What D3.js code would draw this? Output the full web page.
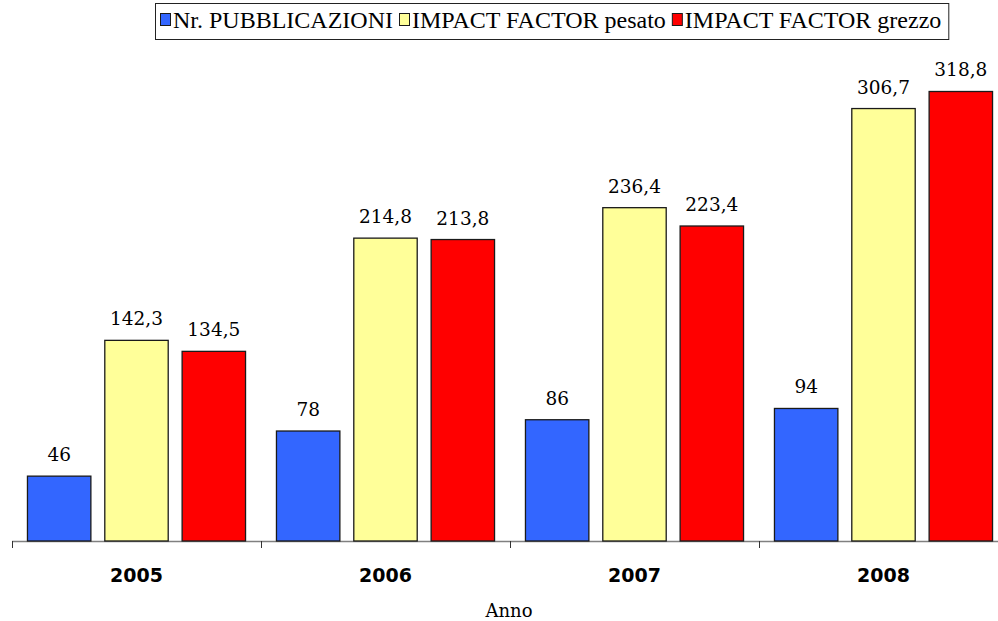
<!DOCTYPE html>
<html>
<head>
<meta charset="utf-8">
<script src="https://cdn.jsdelivr.net/npm/d3@7"></script>
<style>
  body { margin: 0; background: #fff; }
  svg { display: block; }
  .serif { font-family: 'Liberation Serif', 'Times New Roman', serif; }
  .serif2 { font-family: 'DejaVu Serif', serif; }
  .sansb { font-family: 'DejaVu Sans', Verdana, sans-serif; font-weight: bold; }
</style>
</head>
<body>
<div id="chart-area"></div>
<script>

// data
let years = ["2005", "2006", "2007", "2008"];
let seriesNames = ["Nr. PUBBLICAZIONI", "IMPACT FACTOR pesato", "IMPACT FACTOR grezzo"];
let pubblicazioni = [46, 78, 86, 94];
let ifPesato = [142.3, 214.8, 236.4, 306.7];
let ifGrezzo = [134.5, 213.8, 223.4, 318.8];
let colors = ["#3366ff", "#ffff99", "#ff0000"];

let width = 998,
	height = 621;

let svg = d3.select("#chart-area").append("svg")
	.attr("width", width)
	.attr("height", height);

// table for the bars
let data = years.map((y, i) => ({
	year: y,
	values: [pubblicazioni[i], ifPesato[i], ifGrezzo[i]]
}));

let x = d3.scaleBand()
	.domain(years)
	.range([12, 1008])
	.padding(0);

let xInner = d3.scaleBand()
	.domain(d3.range(seriesNames.length))
	.range([0, x.bandwidth()])
	.paddingInner(0.18)
	.paddingOuter(0.2);

let y = d3.scaleLinear()
	.domain([0, 350])
	.range([541, 541 - 350 * 1.41]);

// x axis
let xAxis = svg.append("g")
	.attr("transform", "translate(0," + y(0) + ")");

xAxis.append("line")
	.attr("x1", 12).attr("x2", 998)
	.attr("y1", 0.5).attr("y2", 0.5)
	.attr("stroke", "#808080")
	.attr("stroke-width", 1.5);

xAxis.selectAll(".tick")
	.data(years)
	.enter()
	.append("line")
	.attr("x1", d => Math.round(x(d)) + 0.5)
	.attr("x2", d => Math.round(x(d)) + 0.5)
	.attr("y1", 0)
	.attr("y2", 7)
	.attr("stroke", "#333")
	.attr("stroke-width", 1);

xAxis.selectAll(".year-label")
	.data(years)
	.enter()
	.append("text")
	.attr("class", "year-label sansb")
	.attr("x", d => x(d) + x.bandwidth() / 2)
	.attr("y", 41)
	.attr("text-anchor", "middle")
	.attr("font-size", 19)
	.text(d => d);

svg.append("text")
	.attr("class", "serif2")
	.attr("x", 509)
	.attr("y", 617)
	.attr("text-anchor", "middle")
	.attr("font-size", 18)
	.text("Anno");

// bars
let groups = svg.selectAll(".year-group")
	.data(data)
	.enter()
	.append("g")
	.attr("class", "year-group")
	.attr("transform", d => "translate(" + x(d.year) + ",0)");

groups.selectAll("rect")
	.data(d => d.values)
	.enter()
	.append("rect")
	.attr("x", (d, i) => xInner(i))
	.attr("y", d => y(d))
	.attr("width", xInner.bandwidth())
	.attr("height", d => y(0) - y(d))
	.attr("fill", (d, i) => colors[i])
	.attr("stroke", "#1a1a1a")
	.attr("stroke-width", 1.3);

let fmt = v => Number.isInteger(v) ? String(v) : v.toFixed(1).replace(".", ",");

groups.selectAll(".value-label")
	.data(d => d.values)
	.enter()
	.append("text")
	.attr("class", "value-label serif2")
	.attr("x", (d, i) => xInner(i) + xInner.bandwidth() / 2)
	.attr("y", d => y(d) - 15)
	.attr("text-anchor", "middle")
	.attr("font-size", 18.5)
	.text(d => fmt(d));

// legend
let legend = svg.append("g");
let lx = 160;
seriesNames.forEach((name, i) => {
	legend.append("rect")
		.attr("x", lx + 0.5)
		.attr("y", 13.5)
		.attr("width", 10)
		.attr("height", 12)
		.attr("fill", colors[i])
		.attr("stroke", "#1a1a1a")
		.attr("stroke-width", 1);
	let t = legend.append("text")
		.attr("class", "serif")
		.attr("x", lx + 13)
		.attr("y", 28)
		.attr("font-size", 24)
		.text(name);
	lx = lx + 13 + t.node().getComputedTextLength() + 6;
});

legend.insert("rect", ":first-child")
	.attr("x", 155.5)
	.attr("y", 3.5)
	.attr("width", lx - 155 + 1)
	.attr("height", 36)
	.attr("fill", "#fff")
	.attr("stroke", "#222")
	.attr("stroke-width", 1);

</script>
</body>
</html>
